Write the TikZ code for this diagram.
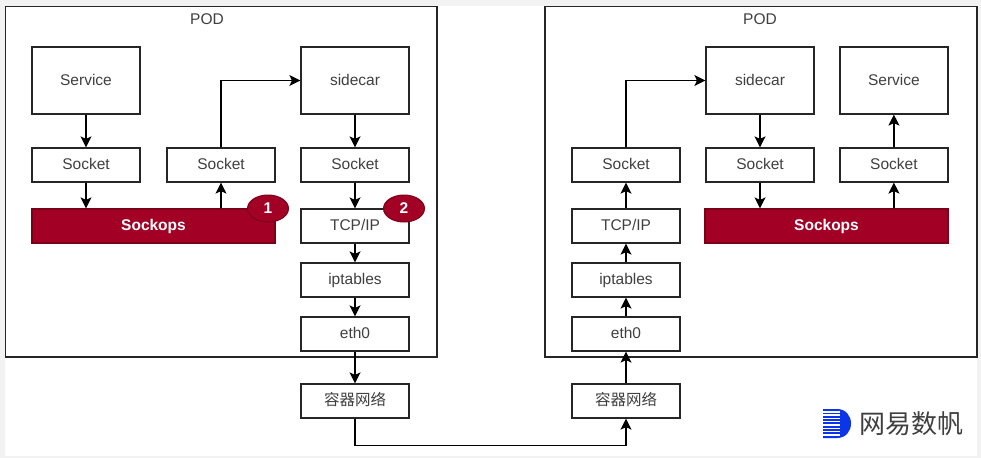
\documentclass[tikz,border=0pt]{standalone}
\usepackage{fontspec}
\setmainfont{Liberation Sans}
\newfontfamily\cjk{Noto Sans CJK SC}
\usetikzlibrary{arrows.meta,shapes.geometric}
\definecolor{ops}{HTML}{A20025}
\definecolor{opsline}{HTML}{7A0018}
\definecolor{ink}{HTML}{404040}
\definecolor{logoblue}{HTML}{0A35E8}
\tikzset{
  x=1pt,y=-1pt,
  boxa/.style={draw=black!85,line width=1.2pt,fill=white,text=ink,font=\fontsize{15.5}{18}\selectfont,inner sep=0pt,text height=11pt,text depth=1.5pt},
  podbox/.style={boxa,line width=1.4pt},
  opsbox/.style={draw=opsline,line width=1.2pt,fill=ops,text=white,font=\fontsize{15.5}{18}\selectfont\bfseries,inner sep=0pt,text height=11pt,text depth=1.5pt},
  badge/.style={ellipse,draw=opsline,line width=1pt,fill=ops,text=white,font=\fontsize{15.5}{18}\selectfont\bfseries,minimum width=41pt,minimum height=27pt,inner sep=0pt},
  link/.style={draw=black,line width=1.2pt,-{Stealth[length=11pt,width=11pt,inset=2.5pt]}},
  podlabel/.style={text=ink,font=\fontsize{15.5}{18}\selectfont,inner sep=0pt},
}
\begin{document}
\begin{tikzpicture}
\useasboundingbox (0,0) rectangle (981,458);
\fill[black!5] (0,0) rectangle (981,458);
\fill[white] (5,6) rectangle (977,456);
% PODs
\node[podbox,minimum width=431.5pt,minimum height=350.5pt] (podl) at (221.25,181.75) {};
\node[podbox,minimum width=432pt,minimum height=350.5pt] (podr) at (761,181.75) {};
\node[podlabel] (podlt) at (207,19) {POD};
\node[podlabel] (podrt) at (760,19) {POD};
% left pod
\node[boxa,minimum width=108pt,minimum height=67pt] (svcl) at (86,80.5) {Service};
\node[boxa,minimum width=108pt,minimum height=34pt] (sk1) at (86,165) {Socket};
\node[opsbox,minimum width=243pt,minimum height=34pt] (opsl) at (153.5,226) {Sockops};
\node[boxa,minimum width=108pt,minimum height=34pt] (sk2) at (221,165) {Socket};
\node[boxa,minimum width=108pt,minimum height=67pt] (carl) at (355,80.5) {sidecar};
\node[boxa,minimum width=108pt,minimum height=34pt] (sk3) at (355,165) {Socket};
\node[boxa,minimum width=108pt,minimum height=34pt] (tcpl) at (355,226) {TCP/IP};
\node[boxa,minimum width=108pt,minimum height=34pt] (ipl) at (355,280) {iptables};
\node[boxa,minimum width=108pt,minimum height=34pt] (ethl) at (355,334) {eth0};
\node[boxa,minimum width=108pt,minimum height=34pt] (netl) at (355,401) {\cjk 容器网络};
% right pod
\node[boxa,minimum width=108pt,minimum height=34pt] (sk4) at (626,165) {Socket};
\node[boxa,minimum width=108pt,minimum height=34pt] (tcpr) at (626,226) {TCP/IP};
\node[boxa,minimum width=108pt,minimum height=34pt] (ipr) at (626,280) {iptables};
\node[boxa,minimum width=108pt,minimum height=34pt] (ethr) at (626,334) {eth0};
\node[boxa,minimum width=108pt,minimum height=34pt] (netr) at (626,401) {\cjk 容器网络};
\node[boxa,minimum width=108pt,minimum height=67pt] (carr) at (760,80.5) {sidecar};
\node[boxa,minimum width=108pt,minimum height=34pt] (sk5) at (760,165) {Socket};
\node[boxa,minimum width=108pt,minimum height=67pt] (svcr) at (893.9,80.5) {Service};
\node[boxa,minimum width=108pt,minimum height=34pt] (sk6) at (893.9,165) {Socket};
\node[opsbox,minimum width=243pt,minimum height=34pt] (opsr) at (826.5,226) {Sockops};
% connectors
\draw[link] (svcl) -- (sk1);
\draw[link] (sk1) -- (sk1 |- opsl.north);
\draw[link] (sk2 |- opsl.north) -- (sk2);
\draw[link] (sk2.north) |- (carl.west);
\draw[link] (carl) -- (sk3);
\draw[link] (sk3) -- (tcpl);
\draw[link] (tcpl) -- (ipl);
\draw[link] (ipl) -- (ethl);
\draw[link] (ethl) -- (netl);
\draw[link] (netl.south) -- ++(0,27) -| (netr.south);
\draw[link] (netr) -- (ethr);
\draw[link] (ethr) -- (ipr);
\draw[link] (ipr) -- (tcpr);
\draw[link] (tcpr) -- (sk4);
\draw[link] (sk4.north) |- (carr.west);
\draw[link] (carr) -- (sk5);
\draw[link] (sk5) -- (sk5 |- opsr.north);
\draw[link] (sk6 |- opsr.north) -- (sk6);
\draw[link] (sk6) -- (svcr);
% badges
\node[badge] (b1) at (268,208.5) {1};
\node[badge] (b2) at (404,208.5) {2};
% logo
\fill[logoblue] (823,409) -- (837,409) .. controls (846,409) and (851,416) .. (851,423.5) .. controls (851,431) and (846,438) .. (837,438) -- (823,438) -- cycle;
\foreach \yy in {411,414.3,...,436}
  \fill[white] (823,\yy) rectangle (840,\yy+1.5);
\node[inner sep=0pt,text=black!75,font=\cjk\fontsize{26}{28}\selectfont] (logot) at (911,424) {网易数帆};
\end{tikzpicture}
\end{document}
